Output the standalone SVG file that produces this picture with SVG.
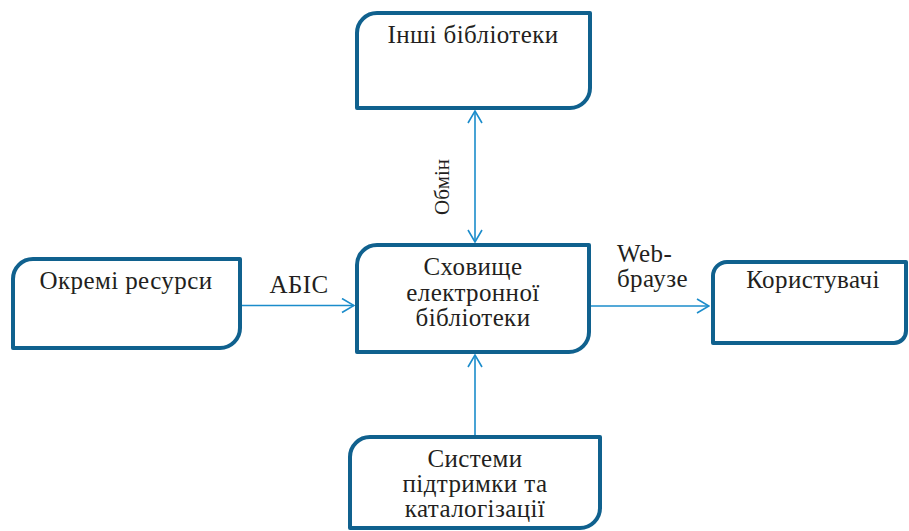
<svg xmlns="http://www.w3.org/2000/svg" width="909" height="531" viewBox="0 0 909 531">
<defs>
<style>
.box{fill:#fff;stroke:#10618e;stroke-width:4;stroke-linejoin:round}
.t{font-family:"Liberation Serif","DejaVu Serif",serif;font-size:25px;letter-spacing:0.4px;fill:#231f20}
.c{text-anchor:middle}
.ln{stroke:#1b8ccb;stroke-width:1.6;fill:none}
</style>
<marker id="ah" viewBox="0 0 14 16" refX="13" refY="8" markerWidth="14" markerHeight="16" markerUnits="userSpaceOnUse" orient="auto-start-reverse">
<path d="M1,1 L13,8 L1,15" fill="none" stroke="#1b8ccb" stroke-width="1.6"/>
</marker>
</defs>
<rect width="909" height="531" fill="#fff"/>
<g id="connectors">
<line class="ln" x1="475" y1="111" x2="475" y2="242" marker-start="url(#ah)" marker-end="url(#ah)"/>
<line class="ln" x1="240" y1="305.5" x2="354" y2="305.5" marker-end="url(#ah)"/>
<line class="ln" x1="589" y1="306" x2="709" y2="306" marker-end="url(#ah)"/>
<line class="ln" x1="475" y1="437" x2="475" y2="355" marker-end="url(#ah)"/>
<text class="t" transform="translate(449,187) rotate(-90)" text-anchor="middle" style="font-size:21px;letter-spacing:0">Обмін</text>
<text class="t c" x="299" y="293">АБІС</text>
<text class="t" x="617" y="262">Web-</text>
<text class="t" x="617" y="287">браузе</text>
</g>
<g id="node-inshi">
<path class="box" d="M377,13 H590 V88 A20,20 0 0 1 570,108 H357 V33 A20,20 0 0 1 377,13 Z"/>
<text class="t c" x="473" y="43">Інші бібліотеки</text>
</g>
<g id="node-okremi">
<path class="box" d="M33,259 H240 V328 A20,20 0 0 1 220,348 H13 V279 A20,20 0 0 1 33,259 Z"/>
<text class="t c" x="126" y="289">Окремі ресурси</text>
</g>
<g id="node-skhovyshche">
<path class="box" d="M377,245 H589 V332 A20,20 0 0 1 569,352 H357 V265 A20,20 0 0 1 377,245 Z"/>
<text class="t c" x="473" y="275">Сховище</text>
<text class="t c" x="473" y="301">електронної</text>
<text class="t c" x="473" y="326">бібліотеки</text>
</g>
<g id="node-korystuvachi">
<path class="box" d="M727,262 H906 V331 A12,12 0 0 1 894,343 H713 V276 A14,14 0 0 1 727,262 Z"/>
<text class="t c" x="813" y="288">Користувачі</text>
</g>
<g id="node-systemy">
<path class="box" d="M370,437 H600 V508 A20,20 0 0 1 580,528 H350 V457 A20,20 0 0 1 370,437 Z"/>
<text class="t c" x="475" y="467">Системи</text>
<text class="t c" x="475" y="492">підтримки та</text>
<text class="t c" x="475" y="517">каталогізації</text>
</g>
</svg>
